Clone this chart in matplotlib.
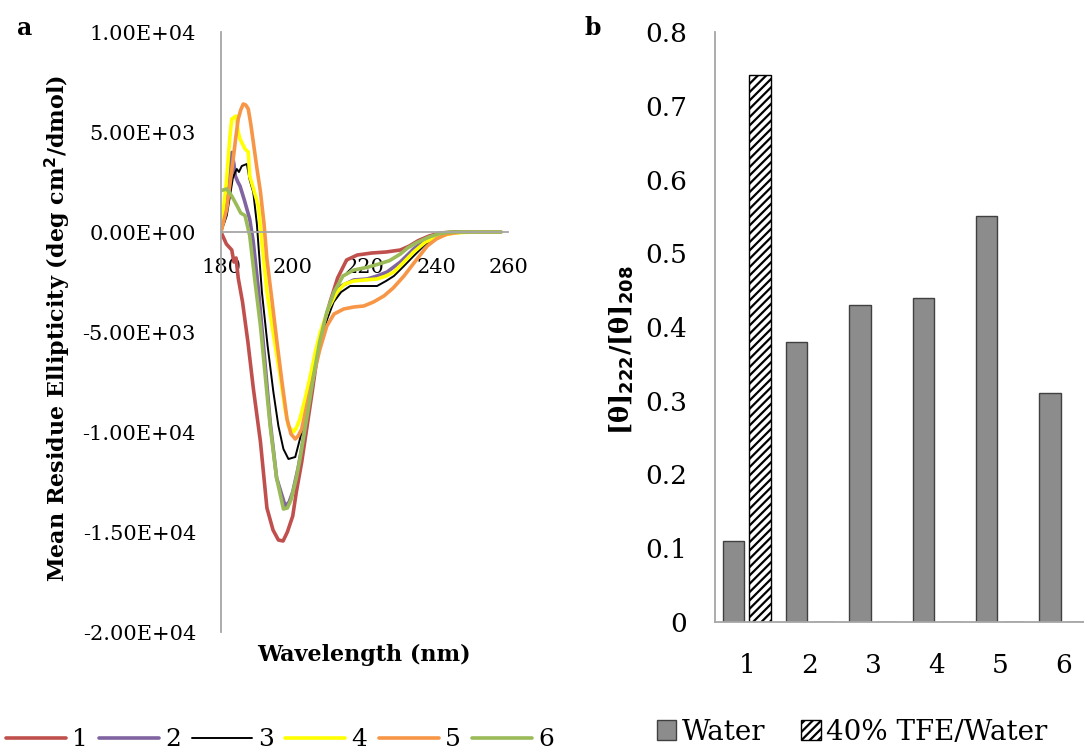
import matplotlib.pyplot as plt
from matplotlib.patches import Patch

# CD spectra, mean residue ellipticity vs wavelength (nm)
wl_1 = [180, 181.5, 183, 183.6, 184.2, 184.8, 186, 187.5, 189, 191, 192.8, 194.5, 196, 197.3,
        198.5, 200, 201, 202.5, 204, 205.5, 206.7, 208.5, 210.4, 212.5, 215, 218, 222, 226,
        230, 232.5, 235, 238, 241, 245, 250, 258]
mre_1 = [0, -600, -900, -1500, -1300, -2300, -3500, -5500, -7800, -10500, -13800, -14900,
         -15400, -15450, -15000, -14200, -13000, -11500, -9700, -7900, -6350, -4800, -3500,
         -2300, -1400, -1150, -1050, -1000, -900, -700, -430, -200, -50, 0, 0, 0]

wl_2 = [180, 181.5, 182.5, 183, 183.6, 184, 184.7, 185.3, 186.5, 188, 189, 190.5, 192, 193.7,
        195.5, 197.9, 199, 200, 201.5, 203, 205, 207, 209, 211, 213.5, 217, 220.7, 223.5,
        226.3, 230, 233.7, 237, 242, 246, 258]
mre_2 = [0, 1800, 3300, 3980, 3400, 2800, 2500, 2300, 1600, 650, -500, -3000, -6000, -9500,
         -12300, -13700, -13500, -13000, -11800, -10300, -8000, -6000, -4500, -3400, -2700,
         -2400, -2350, -2200, -2000, -1500, -850, -400, -100, 0, 0]

wl_3 = [180, 181, 181.6, 182.5, 183.3, 184, 184.4, 185, 185.8, 186.5, 187.2, 188, 189, 190,
        191.4, 193, 194.6, 196, 197.4, 198.8, 200.7, 202, 203.5, 204.9, 206.3, 207.7, 209.5,
        211.4, 213.5, 216, 220, 223.5, 226, 228.2, 231, 233.7, 236.5, 239.3, 243, 246.8, 258]
mre_3 = [0, 500, 820, 1800, 2700, 3000, 3150, 3000, 3300, 3350, 3400, 2600, 1980, 400, -3000,
         -5700, -8000, -9700, -10850, -11350, -11250, -10350, -9200, -8000, -6700, -5500,
         -4400, -3500, -3000, -2700, -2700, -2700, -2450, -2200, -1700, -1200, -700, -350,
         -100, 0, 0]

wl_4 = [180, 181.5, 182.5, 183, 184.2, 184.8, 185.3, 186.7, 187.6, 188, 189, 190.4, 191.5,
        192.8, 194.5, 196.5, 197.8, 198.8, 200.2, 201, 202, 203.5, 204.9, 206.3, 207.7, 210,
        212.3, 214.5, 217, 220, 223.5, 226, 228.2, 231, 233.7, 237, 241, 245, 250, 258]
mre_4 = [0, 2500, 4800, 5650, 5800, 5000, 4650, 4150, 4000, 2800, 2200, 1300, -700, -3000,
         -5000, -7200, -8800, -9700, -10000, -9800, -9350, -8300, -7200, -6000, -5000, -3800,
         -3000, -2600, -2450, -2400, -2350, -2200, -2000, -1500, -1000, -500, -200, -50, 0, 0]

wl_5 = [180, 181.6, 182.5, 183.4, 184.1, 184.8, 185.5, 186.2, 186.9, 187.6, 188.3, 189, 190,
        191, 192, 192.8, 194.2, 195.6, 197, 198.4, 199.5, 200.7, 201.5, 202.5, 204, 205.8,
        207.5, 209.5, 211.5, 214.2, 217, 219.8, 222.5, 225.4, 228, 231, 234, 237.5, 240, 243,
        247, 258]
mre_5 = [0, 1150, 2400, 3650, 4700, 5650, 6100, 6400, 6350, 6150, 5400, 4500, 3200, 2000,
         400, -1350, -3400, -5500, -7500, -9350, -10100, -10350, -10200, -9850, -8600, -7200,
         -5900, -4700, -4100, -3850, -3750, -3700, -3500, -3200, -2800, -2200, -1500, -700,
         -350, -100, 0, 0]

wl_6 = [180, 181.6, 183, 184.5, 185.5, 186.7, 188, 189.5, 191, 192.5, 193.7, 195.5, 197.4,
        198.5, 199.5, 201, 202, 204, 205.8, 207.5, 209.5, 211.5, 214, 217, 220.7, 224, 227,
        230, 232, 234.7, 238, 241, 244, 250, 258]
mre_6 = [2070, 2150, 1800, 1300, 950, 820, -180, -2500, -4700, -7500, -9700, -12300, -13850,
         -13800, -13400, -12300, -11350, -9200, -7200, -5500, -4000, -3000, -2200, -1900,
         -1770, -1600, -1430, -1100, -800, -520, -250, -80, 0, 0, 0]

spectra = [(wl_1, mre_1), (wl_2, mre_2), (wl_3, mre_3),
           (wl_4, mre_4), (wl_5, mre_5), (wl_6, mre_6)]
spectrum_labels = ['1', '2', '3', '4', '5', '6']
line_colors = ['#C0504D', '#8064A2', 'black', '#FFFF00', '#F79646', '#9BBB59']
line_widths = [2.6, 2.6, 1.4, 2.6, 2.6, 2.6]

# helicity ratio per peptide
peptides = [1, 2, 3, 4, 5, 6]
ratio_water = [0.110, 0.380, 0.430, 0.440, 0.551, 0.310]
ratio_tfe = [0.742, 0, 0, 0, 0, 0]

plt.rcParams['font.family'] = 'DejaVu Serif'
plt.rcParams['hatch.linewidth'] = 1.6
fig = plt.figure(figsize=(10.84, 7.51), dpi=100)
axis_grey = '#A6A6A6'

# ---- panel a: CD spectra
ax1 = fig.add_axes([221 / 1084, 1 - 632 / 751, 287 / 1084, 600 / 751])
for (x, y), lab, c, lw in zip(spectra, spectrum_labels, line_colors, line_widths):
    ax1.plot(x, y, color=c, lw=lw, label=lab, solid_capstyle='round')
ax1.set_xlim(180, 260)
ax1.set_ylim(-20000, 10000)
ax1.set_xticks([180, 200, 220, 240, 260])
ax1.set_yticks([-20000, -15000, -10000, -5000, 0, 5000, 10000])
ax1.set_yticklabels([f'{v:.2E}' for v in ax1.get_yticks()])
ax1.spines['top'].set_visible(False)
ax1.spines['right'].set_visible(False)
ax1.spines['bottom'].set_position(('data', 0))
for s in ('left', 'bottom'):
    ax1.spines[s].set_color(axis_grey)
    ax1.spines[s].set_linewidth(1.3)
ax1.tick_params(axis='x', length=0, pad=19, labelsize=15)
ax1.tick_params(axis='y', length=0, pad=18, labelsize=15)

fig.text(58 / 1084, 1 - 328 / 751, 'Mean Residue Ellipticity (deg cm$^\\mathbf{2}$/dmol)',
         rotation=90, ha='center', va='center', fontsize=16, fontweight='bold')
fig.text(364 / 1084, 1 - 655 / 751, 'Wavelength (nm)', ha='center', va='center',
         fontsize=16, fontweight='bold')
fig.text(25 / 1084, 1 - 28 / 751, 'a', ha='center', va='center', fontsize=17, fontweight='bold')

ax1.legend(loc='center', bbox_to_anchor=(280 / 1084, 1 - 740 / 751),
           bbox_transform=fig.transFigure, ncol=6, frameon=False, fontsize=18,
           handlelength=2.4, handletextpad=0.25, columnspacing=0.44, borderpad=0)

# ---- panel b: [θ]222/[θ]208 ratios
ax2 = fig.add_axes([715 / 1084, 1 - 622 / 751, 380 / 1084, 590 / 751])
ax2.bar([p - 0.21 for p in peptides], ratio_water, width=0.34, color='#8C8C8C',
        edgecolor='#404040', linewidth=1.0, label='Water')
ax2.bar([p + 0.21 for p in peptides], ratio_tfe, width=0.34, color='white',
        edgecolor='black', hatch='////', linewidth=1.0, label='40% TFE/Water')
ax2.set_xlim(0.5, 6.5)
ax2.set_ylim(0, 0.8)
ax2.set_xticks(peptides)
ax2.set_yticks([0, 0.1, 0.2, 0.3, 0.4, 0.5, 0.6, 0.7, 0.8])
ax2.set_yticklabels(['0', '0.1', '0.2', '0.3', '0.4', '0.5', '0.6', '0.7', '0.8'])
ax2.spines['top'].set_visible(False)
ax2.spines['right'].set_visible(False)
for s in ('left', 'bottom'):
    ax2.spines[s].set_color(axis_grey)
    ax2.spines[s].set_linewidth(1.3)
ax2.tick_params(axis='x', length=0, pad=22, labelsize=19)
ax2.tick_params(axis='y', length=0, pad=20, labelsize=19)

fig.text(622 / 1084, 1 - 350 / 751, '[θ]$_{\\mathbf{222}}$/[θ]$_{\\mathbf{208}}$',
         rotation=90, ha='center', va='center', fontsize=18.5, fontweight='bold')
fig.text(593 / 1084, 1 - 28 / 751, 'b', ha='center', va='center', fontsize=17, fontweight='bold')

handles = [Patch(facecolor='#8C8C8C', edgecolor='#404040', label='Water'),
           Patch(facecolor='white', edgecolor='black', hatch='////', label='40% TFE/Water')]
fig.legend(handles=handles, loc='center', bbox_to_anchor=(852 / 1084, 1 - 732 / 751),
           ncol=2, frameon=False, fontsize=20, handlelength=0.7, handleheight=0.7,
           handletextpad=0.2, columnspacing=1.3, borderpad=0)

fig.savefig('out.png', dpi=100)
